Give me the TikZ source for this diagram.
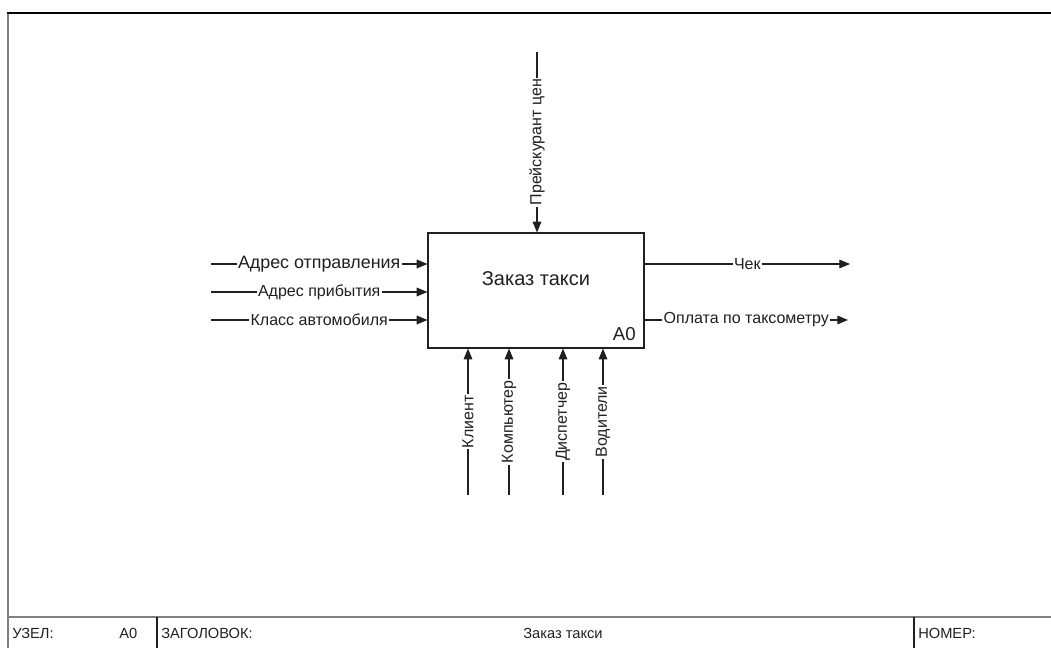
\documentclass[tikz,border=0pt]{standalone}
\usepackage{fontspec}
\setmainfont{Liberation Sans}
\usetikzlibrary{arrows.meta}
\definecolor{lineclr}{HTML}{202020}
\definecolor{frameclr}{HTML}{808080}
\begin{document}
\begin{tikzpicture}[x=0.75pt,y=-0.75pt,
  flow/.style={draw=lineclr,line width=0.8pt,-{Triangle[length=8pt,width=6.5pt]}},
  lab/.style={fill=white,inner sep=1pt,font=\fontsize{12}{14}\selectfont,text=lineclr},
  vlab/.style={lab,rotate=90},
  actbox/.style={draw=lineclr,line width=0.9pt,minimum width=162pt,minimum height=86.25pt,inner sep=0pt},
  foot/.style={font=\fontsize{11}{13}\selectfont,text=lineclr,inner sep=0pt}]
\useasboundingbox (0,0) rectangle (1051,648);
% frame
\draw[line width=1.4pt,black] (7,13) -- (1051,13);
\draw[line width=1.2pt,frameclr] (8,14) -- (8,648);
\draw[line width=0.9pt,frameclr] (8,617) -- (1051,617);
\draw[line width=0.9pt,lineclr] (157,617) -- (157,648);
\draw[line width=0.9pt,lineclr] (914,617) -- (914,648);
\node[foot,anchor=west] (f1) at (12,633) {УЗЕЛ:};
\node[foot,anchor=west] (f2) at (119,633) {A0};
\node[foot,anchor=west] (f3) at (161,633) {ЗАГОЛОВОК:};
\node[foot] (f4) at (563,633) {Заказ такси};
\node[foot,anchor=west] (f5) at (918,633) {НОМЕР:};
% activity box
\node[actbox] (A0) at (536,290.5) {};
\node[font=\fontsize{15}{18}\selectfont,text=lineclr] (title) at (536,279) {Заказ такси};
\node[font=\fontsize{14}{16}\selectfont,text=lineclr,anchor=south east,inner sep=0pt] (num) at (636,341) {A0};
% free ends
\coordinate (i1) at (211,264);
\coordinate (i2) at (211,292);
\coordinate (i3) at (211,320);
\coordinate (o1) at (850,264);
\coordinate (o2) at (848,320);
\coordinate (c1) at (537,52);
\coordinate (m1) at (468,495);
\coordinate (m2) at (509,495);
\coordinate (m3) at (563,495);
\coordinate (m4) at (603,495);
% inputs
\draw[flow] (i1) -- (i1 -| A0.west) node[midway,lab,font=\fontsize{13.4}{15}\selectfont] {Адрес отправления};
\draw[flow] (i2) -- (i2 -| A0.west) node[midway,lab] {Адрес прибытия};
\draw[flow] (i3) -- (i3 -| A0.west) node[midway,lab] {Класс автомобиля};
% outputs
\draw[flow] (o1 -| A0.east) -- (o1) node[midway,lab] {Чек};
\draw[flow] (o2 -| A0.east) -- (o2) node[midway,lab] {Оплата по таксометру};
% control
\draw[flow] (c1) -- (c1 |- A0.north) node[midway,vlab] {Прейскурант цен};
% mechanisms
\draw[flow] (m1) -- (m1 |- A0.south) node[midway,vlab] {Клиент};
\draw[flow] (m2) -- (m2 |- A0.south) node[midway,vlab] {Компьютер};
\draw[flow] (m3) -- (m3 |- A0.south) node[midway,vlab] {Диспетчер};
\draw[flow] (m4) -- (m4 |- A0.south) node[midway,vlab] {Водители};
\end{tikzpicture}
\end{document}
